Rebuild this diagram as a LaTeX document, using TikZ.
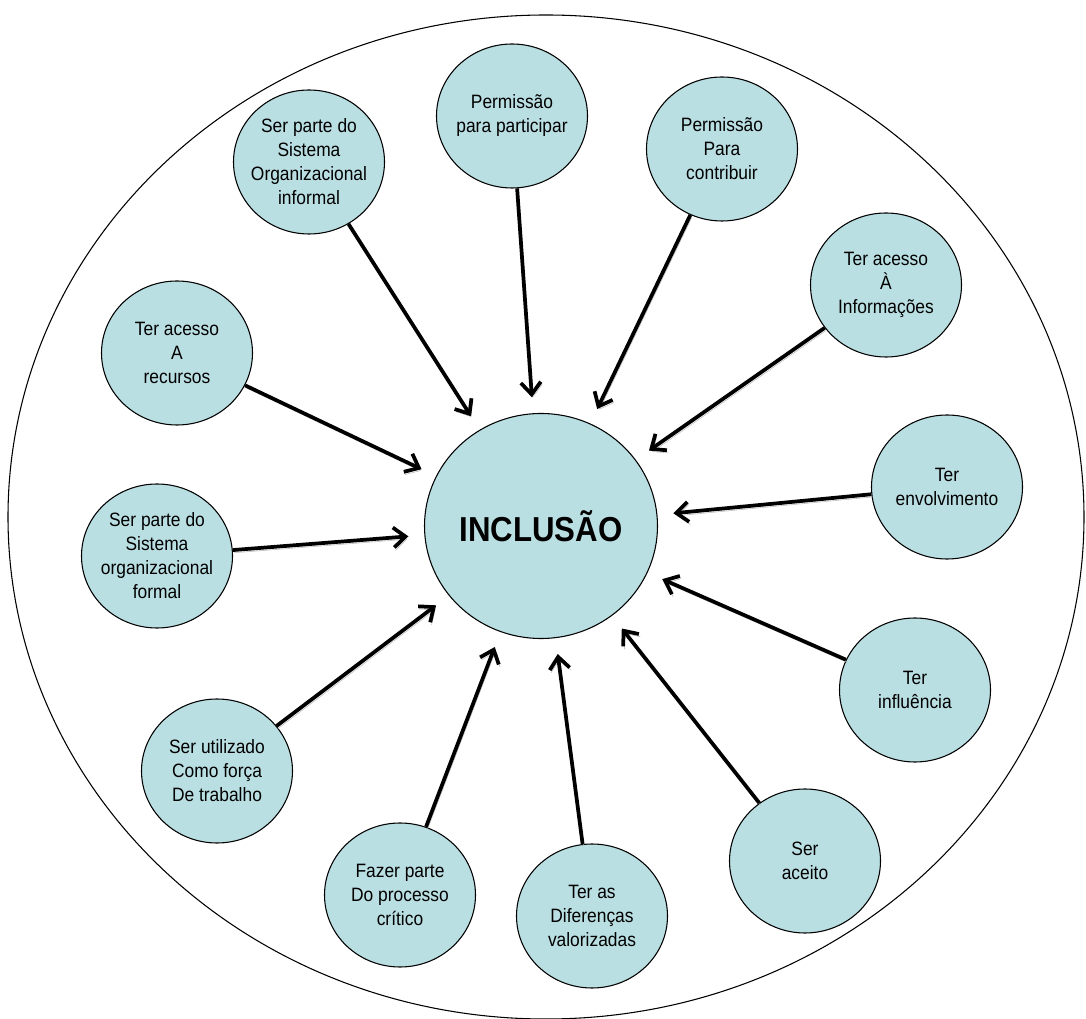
\documentclass[tikz,border=0pt]{standalone}
\usepackage{fontspec}
\setmainfont{Liberation Sans}[FakeStretch=0.9]
\usetikzlibrary{shapes.geometric,arrows.meta}
\definecolor{bubble}{RGB}{186,223,227}

\begin{document}
\begin{tikzpicture}[x=0.75pt,y=-0.75pt,
  bub/.style={ellipse,draw,line width=0.8pt,fill=bubble,minimum width=113.25pt,minimum height=108pt,inner sep=0pt},
  bubtext/.style={align=center,font=\fontsize{14.5}{18}\selectfont},
  link/.style={line width=2.8pt,-{Straight Barb[length=9pt,width=15pt]},shorten >=12pt,
    preaction={draw=gray!55,transform canvas={shift={(1pt,-2pt)}}}}]
\useasboundingbox (0,0) rectangle (1086,1019);
\draw[line width=0.8pt] (546,517) ellipse [x radius=538, y radius=502];

\node[bub,minimum width=174.75pt,minimum height=168.75pt,font=\bfseries\fontsize{26}{30}\selectfont] (inc) at (541,526) {INCLUSÃO};

\node[bub,label={[bubtext]center:{Ser parte do\\Sistema\\Organizacional\\informal}}] (informal) at (309,162) {};
\node[bub,label={[bubtext]center:{Permissão\\para participar}}] (participar) at (512,116) {};
\node[bub,label={[bubtext]center:{Permissão\\Para\\contribuir}}] (contribuir) at (722,149) {};
\node[bub,label={[bubtext]center:{Ter acesso\\À\\Informações}}] (informacoes) at (886,285) {};
\node[bub,label={[bubtext]center:{Ter\\envolvimento}}] (envolvimento) at (947,487) {};
\node[bub,label={[bubtext]center:{Ter\\influência}}] (influencia) at (915,690) {};
\node[bub,label={[bubtext]center:{Ser\\aceito}}] (aceito) at (805,861) {};
\node[bub,label={[bubtext]center:{Ter as\\Diferenças\\valorizadas}}] (diferencas) at (592,916) {};
\node[bub,label={[bubtext]center:{Fazer parte\\Do processo\\crítico}}] (critico) at (400,895) {};
\node[bub,label={[bubtext]center:{Ser utilizado\\Como força\\De trabalho}}] (trabalho) at (217,771) {};
\node[bub,label={[bubtext]center:{Ser parte do\\Sistema\\organizacional\\formal}}] (formal) at (157,556) {};
\node[bub,label={[bubtext]center:{Ter acesso\\A\\recursos}}] (recursos) at (177,353) {};

% setas para o centro
\draw[link] (informal) -- (inc);
\draw[link] (participar) -- (inc);
\draw[link] (contribuir) -- (inc);
\draw[link] (informacoes) -- (inc);
\draw[link] (envolvimento) -- (inc);
\draw[link] (influencia) -- (inc);
\draw[link] (aceito) -- (inc);
\draw[link] (diferencas) -- (inc);
\draw[link] (critico) -- (inc);
\draw[link] (trabalho) -- (inc);
\draw[link] (formal) -- (inc);
\draw[link] (recursos) -- (inc);
\end{tikzpicture}
\end{document}
